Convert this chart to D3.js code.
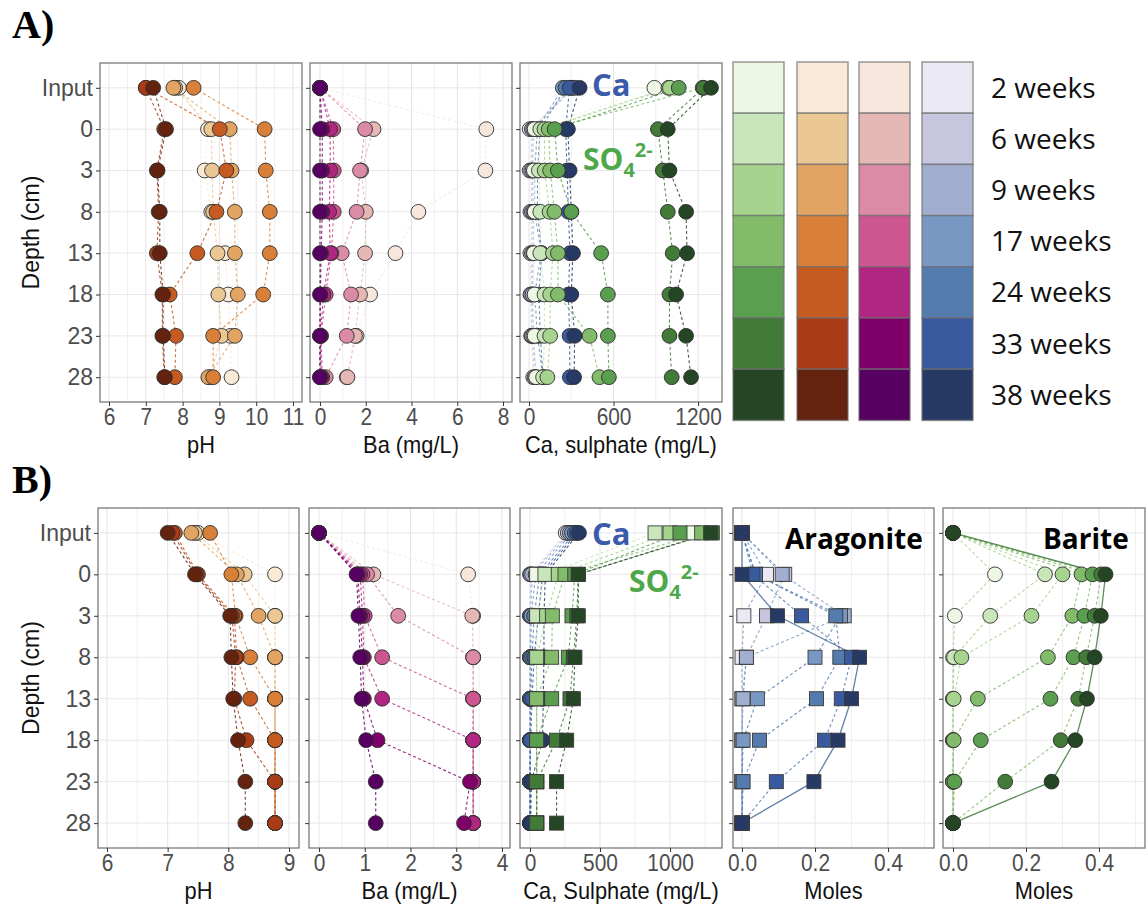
<!DOCTYPE html>
<html>
<head>
<meta charset="utf-8">
<script src="https://cdn.jsdelivr.net/npm/d3@7"></script>
<style>
  body { margin: 0; background: #fff; }
</style>
</head>
<body>
<svg id="fig" width="1148" height="904"></svg>
<script>
// DATA — rows are sampling times (2 … 38 weeks), columns follow depths
const depths = ["Input", "0", "3", "8", "13", "18", "23", "28"];
const weekLabels = ["2 weeks", "6 weeks", "9 weeks", "17 weeks", "24 weeks", "33 weeks", "38 weeks"];

const greens  = ["#eef6e4", "#c8e6b9", "#a6d48e", "#82bc6a", "#5a9e50", "#427b38", "#254625"];
const oranges = ["#f8ead6", "#ebc793", "#e2a462", "#d88039", "#c65b22", "#a93c16", "#64230f"];
const pinks   = ["#f7e6dc", "#e6b8b5", "#dc8ba6", "#cd5590", "#b02782", "#800069", "#560061"];
const blues   = ["#eae8f3", "#c6c7df", "#a2aecf", "#7898c3", "#537bad", "#3a5aa0", "#273965"];

// A) measured
const phA = [
  [7.9, 8.69, 8.6, 8.78, 9.15, 9.24, 9.3, 9.33],
  [7.8, 8.78, 8.8, 8.83, 8.95, 8.97, 9.06, 8.74],
  [7.75, 9.28, 9.33, 9.42, 9.42, 9.5, 9.42, 8.7],
  [8.3, 10.23, 10.26, 10.37, 10.37, 10.19, 8.83, 8.83],
  [7.0, 9.01, 9.19, 8.92, 8.4, 7.65, 7.82, 7.79],
  [7.0, 7.5, 7.3, 7.35, 7.3, 7.45, 7.45, 7.5],
  [7.2, 7.55, 7.32, 7.38, 7.38, 7.47, 7.47, 7.52]
];
const baA = [
  [0, 7.27, 7.23, 4.3, 3.3, 2.19, 1.6, 1.17],
  [0, 2.34, 1.8, 2.0, 1.97, 1.75, 1.53, 1.2],
  [0, 1.97, 1.75, 1.6, 0.95, 1.36, 1.17, 0.25],
  [0, 0.58, 0.6, 0.6, 0.5, 0.25, 0.05, 0.1],
  [0, 0.44, 0.45, 0.4, 0.45, 0.15, 0.02, 0.05],
  [0, 0.1, 0.1, 0.1, 0.05, 0.02, 0, 0],
  [0, 0, 0, 0, 0, 0, 0, 0]
];
const caA = [
  [324, 5, 5, 10, 10, 10, 15, 30],
  [300, 20, 15, 20, 20, 15, 20, 40],
  [310, 30, 25, 30, 30, 25, 30, 50],
  [240, 60, 40, 40, 87, 40, 60, 99],
  [260, 80, 60, 60, 90, 70, 80, 100],
  [288, 260, 270, 280, 290, 280, 288, 290],
  [359, 276, 288, 300, 312, 300, 324, 320]
];
const so4A = [
  [890, 40, 35, 40, 35, 40, 40, 50],
  [990, 80, 70, 80, 80, 110, 110, 100],
  [1000, 110, 111, 146, 170, 150, 150, 130],
  [1233, 140, 150, 180, 205, 205, 430, 500],
  [1063, 182, 205, 300, 512, 560, 560, 567],
  [1240, 915, 950, 985, 1020, 997, 997, 1013],
  [1292, 985, 997, 1115, 1122, 1044, 1115, 1150]
];

// B) modelled
const phB = [
  [7.5, 8.77, 8.77, 8.77, 8.77, 8.77, 8.77, 8.77],
  [7.45, 8.27, 8.77, 8.77, 8.77, 8.77, 8.77, 8.77],
  [7.39, 8.14, 8.5, 8.77, 8.77, 8.77, 8.77, 8.77],
  [7.7, 8.05, 8.12, 8.36, 8.77, 8.77, 8.77, 8.77],
  [7.12, 7.5, 8.1, 8.14, 8.36, 8.77, 8.77, 8.77],
  [7.08, 7.48, 8.06, 8.12, 8.1, 8.3, 8.77, 8.77],
  [7.0, 7.45, 8.03, 8.05, 8.08, 8.16, 8.28, 8.28]
];
const baB = [
  [0, 3.26, 3.37, 3.37, 3.37, 3.37, 3.37, 3.37],
  [0, 1.19, 3.35, 3.37, 3.37, 3.37, 3.37, 3.37],
  [0, 1.05, 1.73, 3.37, 3.37, 3.37, 3.37, 3.37],
  [0, 0.95, 1.0, 1.38, 3.37, 3.37, 3.37, 3.37],
  [0, 0.9, 0.95, 0.98, 1.38, 3.37, 3.37, 3.37],
  [0, 0.85, 0.9, 0.95, 0.98, 1.28, 3.3, 3.17],
  [0, 0.82, 0.86, 0.9, 0.93, 1.03, 1.24, 1.24]
];
const caB = [
  [255, 0, 0, 0, 0, 0, 0, 0],
  [270, 5, 0, 0, 0, 0, 0, 0],
  [285, 15, 5, 0, 0, 0, 0, 0],
  [300, 40, 10, 5, 0, 0, 0, 0],
  [320, 70, 30, 15, 5, 0, 0, 0],
  [335, 90, 60, 30, 15, 5, 0, 0],
  [350, 110, 100, 100, 95, 90, 10, 5]
];
const so4B = [
  [1167, 48, 48, 48, 48, 48, 48, 48],
  [893, 107, 48, 48, 48, 48, 48, 48],
  [1000, 202, 119, 48, 48, 48, 48, 48],
  [1226, 250, 160, 155, 48, 48, 48, 48],
  [1071, 320, 300, 274, 155, 48, 48, 48],
  [1302, 345, 335, 310, 286, 190, 48, 48],
  [1290, 345, 345, 321, 310, 262, 190, 190]
];
const aragonite = [
  [0, 0.067, 0.005, 0, 0, 0, 0, 0],
  [0, 0.117, 0.067, 0.012, 0, 0, 0, 0],
  [0, 0.11, 0.28, 0.012, 0.003, 0, 0, 0],
  [0, 0.037, 0.27, 0.2, 0.042, 0.003, 0, 0],
  [0, 0.037, 0.257, 0.268, 0.204, 0.048, 0.003, 0],
  [0, 0.03, 0.163, 0.3, 0.272, 0.226, 0.094, 0],
  [0, 0, 0.097, 0.322, 0.3, 0.263, 0.197, 0]
];
const barite = [
  [0, 0.115, 0.005, 0, 0, 0, 0, 0],
  [0, 0.252, 0.102, 0.003, 0, 0, 0, 0],
  [0, 0.3, 0.215, 0.023, 0.002, 0, 0, 0],
  [0, 0.352, 0.327, 0.26, 0.068, 0.002, 0, 0],
  [0, 0.382, 0.36, 0.33, 0.267, 0.076, 0.004, 0],
  [0, 0.406, 0.388, 0.365, 0.343, 0.295, 0.143, 0],
  [0, 0.418, 0.405, 0.388, 0.367, 0.335, 0.27, 0]
];

// DRAWING
const svg = d3.select('#fig');
const axisFont = '"Liberation Sans", Arial, sans-serif';

function drawPanel(box, opt) {
  let x = d3.scaleLinear().domain(opt.domain).range([box.x0, box.x1]);
  let y = d3.scalePoint().domain(depths).range([box.y0, box.y1]).padding(0.6);
  let g = svg.append('g');

  g.append('rect')
      .attr('x', box.x0).attr('y', box.y0)
      .attr('width', box.x1 - box.x0).attr('height', box.y1 - box.y0)
      .attr('fill', '#fff');
  g.selectAll('line.vgrid')
    .data(opt.grid)
      .enter()
    .append('line')
      .attr('x1', d => x(d)).attr('x2', d => x(d))
      .attr('y1', box.y0).attr('y2', box.y1)
      .attr('stroke', d => opt.ticks.includes(d) ? '#e4e4e4' : '#efefef')
      .attr('stroke-width', 1);
  g.selectAll('line.hgrid')
    .data(depths)
      .enter()
    .append('line')
      .attr('x1', box.x0).attr('x2', box.x1)
      .attr('y1', d => y(d)).attr('y2', d => y(d))
      .attr('stroke', '#e8e8e8')
      .attr('stroke-width', 1);

  let line = d3.line().x(d => x(d.v)).y(d => y(d.depth));
  opt.layers.forEach(L => {
    L.values.forEach((vals, s) => {
      let solid = L.solidLast && s === L.values.length - 1;
      g.append('path')
          .datum(vals.map((v, i) => ({v: v, depth: depths[i]})))
          .attr('d', line)
          .attr('fill', 'none')
          .attr('stroke', L.lineColors ? L.lineColors[s] : L.colors[s])
          .attr('stroke-width', solid ? 1.3 : 1.1)
          .attr('stroke-opacity', 0.85)
          .attr('stroke-dasharray', solid ? null : '3,2.5');
    });
  });

  opt.layers.forEach(L => {
    L.values.forEach((vals, s) => {
      let pts = vals.map((v, i) => ({v: v, depth: depths[i]}));
      if (L.shape === 'square') {
        g.selectAll(null)
          .data(pts)
            .enter()
          .append('rect')
            .attr('x', d => x(d.v) - 7)
            .attr('y', d => y(d.depth) - 7)
            .attr('width', 14).attr('height', 14)
            .attr('fill', L.colors[s])
            .attr('stroke', '#3a3a3a')
            .attr('stroke-width', 0.9);
      } else {
        g.selectAll(null)
          .data(pts)
            .enter()
          .append('circle')
            .attr('cx', d => x(d.v))
            .attr('cy', d => y(d.depth))
            .attr('r', 7.4)
            .attr('fill', L.colors[s])
            .attr('stroke', '#2e2e2e')
            .attr('stroke-width', 0.9);
      }
    });
  });

  g.append('rect')
      .attr('x', box.x0).attr('y', box.y0)
      .attr('width', box.x1 - box.x0).attr('height', box.y1 - box.y0)
      .attr('fill', 'none')
      .attr('stroke', '#7a7a7a')
      .attr('stroke-width', 1.3);

  let xAxis = g.append('g')
      .attr('transform', `translate(0,${box.y1})`)
      .call(d3.axisBottom(x).tickValues(opt.ticks).tickSize(4).tickPadding(2)
              .tickFormat(opt.fmt || d3.format('d')));
  let yAxis = g.append('g')
      .attr('transform', `translate(${box.x0},0)`)
      .call(d3.axisLeft(y).tickSize(4).tickPadding(3).tickFormat(d => opt.showY ? d : ''));
  [xAxis, yAxis].forEach(a => {
    a.select('.domain').remove();
    a.selectAll('.tick line').attr('stroke', '#333');
    a.selectAll('.tick text')
        .attr('fill', '#4d4d4d')
        .style('font-family', axisFont);
  });
  // the source text is a little condensed horizontally
  xAxis.selectAll('.tick text')
      .style('font-size', '24px')
      .attr('transform', 'scale(0.87,1)');
  yAxis.selectAll('.tick text')
      .style('font-size', '23px');

  g.append('g')
      .attr('transform', `translate(${(box.x0 + box.x1) / 2},${box.y1 + 51}) scale(0.95,1)`)
    .append('text')
      .attr('text-anchor', 'middle')
      .style('font-family', axisFont)
      .style('font-size', '23px')
      .attr('fill', '#111')
      .text(opt.title);
}

const rowA = {y0: 63, y1: 402};
const rowB = {y0: 508, y1: 848};

drawPanel({x0: 100, x1: 302, ...rowA}, {
  domain: [5.755, 11.245], ticks: [6, 7, 8, 9, 10, 11], grid: d3.range(6, 11.01, 0.5),
  title: 'pH', showY: true,
  layers: [{values: phA, colors: oranges}]
});
drawPanel({x0: 310, x1: 512, ...rowA}, {
  domain: [-0.437, 8.393], ticks: [0, 2, 4, 6, 8], grid: d3.range(0, 8.01, 1),
  title: 'Ba (mg/L)',
  layers: [{values: baA, colors: pinks}]
});
drawPanel({x0: 520, x1: 722, ...rowA}, {
  domain: [-64, 1370], ticks: [0, 600, 1200], grid: d3.range(0, 1201, 300),
  title: 'Ca, sulphate (mg/L)',
  layers: [{values: caA, colors: blues}, {values: so4A, colors: greens}]
});

drawPanel({x0: 98, x1: 299, ...rowB}, {
  domain: [5.852, 9.165], ticks: [6, 7, 8, 9], grid: d3.range(6, 9.01, 0.5),
  title: 'pH', showY: true,
  layers: [{values: phB, colors: oranges}]
});
drawPanel({x0: 309, x1: 510, ...rowB}, {
  domain: [-0.219, 4.175], ticks: [0, 1, 2, 3, 4], grid: d3.range(0, 4.01, 0.5),
  title: 'Ba (mg/L)',
  layers: [{values: baB, colors: pinks}]
});
drawPanel({x0: 520, x1: 722, ...rowB}, {
  domain: [-71, 1371], ticks: [0, 500, 1000], grid: d3.range(0, 1251, 250),
  title: 'Ca, Sulphate (mg/L)',
  layers: [{values: caB, colors: blues}, {values: so4B, colors: greens, shape: 'square'}]
});
drawPanel({x0: 733, x1: 934, ...rowB}, {
  domain: [-0.0247, 0.526], ticks: [0, 0.2, 0.4], grid: d3.range(0, 0.501, 0.1),
  title: 'Moles', fmt: d3.format('.1f'),
  layers: [{values: aragonite, colors: blues, shape: 'square', solidLast: true,
            lineColors: blues.map((c, i) => i === 6 ? '#4a6a9a' : (i < 3 ? blues[3] : blues[4]))}]
});
drawPanel({x0: 943, x1: 1145, ...rowB}, {
  domain: [-0.0274, 0.526], ticks: [0, 0.2, 0.4], grid: d3.range(0, 0.501, 0.1),
  title: 'Moles', fmt: d3.format('.1f'),
  layers: [{values: barite, colors: greens, solidLast: true,
            lineColors: greens.map((c, i) => i === 6 ? '#3f7a3a' : (i < 3 ? greens[2] : greens[3]))}]
});

// Y titles
[rowA, rowB].forEach(r => {
  svg.append('text')
      .attr('transform', `translate(39,${(r.y0 + r.y1) / 2}) rotate(-90)`)
      .attr('text-anchor', 'middle')
      .style('font-family', axisFont)
      .style('font-size', '23px')
      .attr('fill', '#111')
      .text('Depth (cm)');
});

// Panel letters
svg.append('text').attr('x', 12).attr('y', 38)
    .style('font-family', '"Liberation Serif", "Times New Roman", serif')
    .style('font-weight', 'bold').style('font-size', '40px').text('A)');
svg.append('text').attr('x', 12).attr('y', 493)
    .style('font-family', '"Liberation Serif", "Times New Roman", serif')
    .style('font-weight', 'bold').style('font-size', '40px').text('B)');

// In-panel labels
const labelFont = '"Open Sans", sans-serif';
function caLabel(x, y) {
  svg.append('text').attr('x', x).attr('y', y)
      .style('font-family', labelFont).style('font-weight', 'bold').style('font-size', '31px')
      .attr('fill', '#3a5aaa').text('Ca');
}
function so4Label(x, y) {
  let t = svg.append('text').attr('x', x).attr('y', y)
      .style('font-family', labelFont).style('font-weight', 'bold').style('font-size', '30px')
      .attr('fill', '#4ea84a');
  t.append('tspan').text('SO');
  t.append('tspan').attr('dy', 7).style('font-size', '20px').text('4');
  t.append('tspan').attr('dy', -20).style('font-size', '20px').text('2-');
}
caLabel(592, 96);
so4Label(583, 170);
caLabel(592, 545);
so4Label(629, 592);
svg.append('text').attr('x', 785).attr('y', 549)
    .style('font-family', labelFont).style('font-weight', 'bold').style('font-size', '28px')
    .text('Aragonite');
svg.append('text').attr('x', 1043).attr('y', 549)
    .style('font-family', labelFont).style('font-weight', 'bold').style('font-size', '28px')
    .text('Barite');

// Colour legend
const legendCols = [greens, oranges, pinks, blues];
const legendX = [733, 797, 859, 922];
const rowH = 51.2;
let legend = svg.append('g');
legendCols.forEach((pal, c) => {
  legend.selectAll(null)
    .data(pal)
      .enter()
    .append('rect')
      .attr('x', legendX[c])
      .attr('y', (d, i) => 62 + i * rowH)
      .attr('width', 51)
      .attr('height', rowH)
      .attr('fill', d => d)
      .attr('stroke', '#6f6f6f')
      .attr('stroke-opacity', 0.7)
      .attr('stroke-width', 1.5);
});
legend.selectAll('text')
  .data(weekLabels)
    .enter()
  .append('text')
    .attr('x', 991)
    .attr('y', (d, i) => 62 + i * rowH + rowH / 2)
    .attr('dy', '0.36em')
    .style('font-family', labelFont)
    .style('font-size', '28px')
    .attr('fill', '#111')
    .text(d => d);
</script>
</body>
</html>
